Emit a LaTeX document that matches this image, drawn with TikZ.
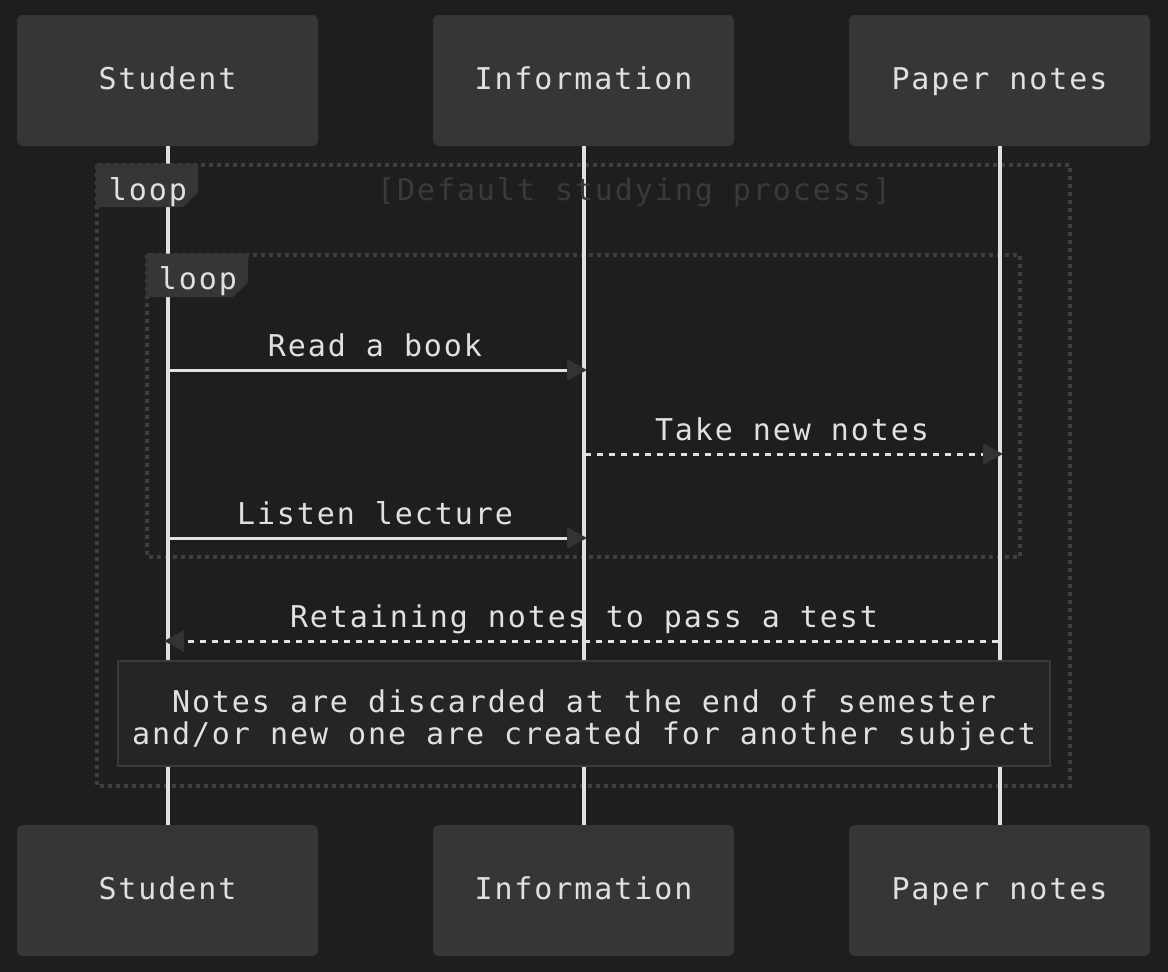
\documentclass[tikz,border=0pt]{standalone}
\usepackage{fontspec}
\newfontfamily\monof[LetterSpace=6.4]{DejaVu Sans Mono}
\usetikzlibrary{arrows.meta}
\definecolor{bgc}{HTML}{1E1E1E}
\definecolor{boxc}{HTML}{363636}
\definecolor{txtc}{HTML}{E0E0E0}
\definecolor{framec}{HTML}{3E3E3E}
\definecolor{tabc}{HTML}{363636}
\definecolor{titlec}{HTML}{3A3A3A}
\definecolor{arrc}{HTML}{333333}
\definecolor{notec}{HTML}{252525}
\definecolor{notebd}{HTML}{3A3A3A}
\tikzset{
  actor/.style={draw=none, fill=boxc, rounded corners=6pt, minimum width=301pt, minimum height=131pt,
    text=txtc, text height=22pt, text depth=5pt, inner sep=0pt},
  life/.style={draw=txtc, line width=4pt},
  framebox/.style={draw=framec, line width=3.5pt, dash pattern=on 4pt off 4pt},
  tabbox/.style={fill=tabc, draw=none},
  lbl/.style={text=txtc, inner sep=0pt, anchor=base},
  msgsolid/.style={draw=txtc, line width=3pt, -{Triangle[length=20pt,width=21pt,fill=arrc,color=arrc]}},
  msgdash/.style={msgsolid, dash pattern=on 6pt off 6pt},
  notebox/.style={fill=notec, draw=notebd, line width=2pt, minimum width=932pt, minimum height=105pt, inner sep=0pt},
}
\begin{document}
\begin{tikzpicture}[x=1pt,y=-1pt, font=\monof\fontsize{30}{33}\selectfont]
\useasboundingbox[fill=bgc] (0,0) rectangle (1168,972);
% actors
\node[actor] (s1) at (167.5,80.5) {Student};
\node[actor] (i1) at (583.5,80.5) {Information};
\node[actor] (p1) at (999.5,80.5) {Paper notes};
\node[actor] (s2) at (167.5,890.5) {Student};
\node[actor] (i2) at (583.5,890.5) {Information};
\node[actor] (p2) at (999.5,890.5) {Paper notes};
% frames
\draw[framebox] (97,165) rectangle (1070,786);
\draw[framebox] (147,255) rectangle (1020,557);
% lifelines
\draw[life] (s1.south) -- (s2.north);
\draw[life] (i1.south) -- (i2.north);
\draw[life] (p1.south) -- (p2.north);
% tabs
\fill[tabbox] (96,163.5) -- (198,163.5) -- (198,192) -- (183,207) -- (96,207) -- cycle;
\node[lbl] (loop1) at (148,200) {loop};
\node[lbl, text=titlec] (title1) at (634,200) {[Default studying process]};
\fill[tabbox] (146,253.5) -- (248,253.5) -- (248,282) -- (233,297) -- (146,297) -- cycle;
\node[lbl] (loop2) at (198,289) {loop};
% message coordinates
\coordinate (a1) at (169,370);
\coordinate (b1) at (587,370);
\coordinate (a2) at (585,454);
\coordinate (b2) at (1003,454);
\coordinate (a3) at (169,538);
\coordinate (b3) at (587,538);
\coordinate (a4) at (998,641);
\coordinate (b4) at (164,641);
\draw[msgsolid] (a1) -- (b1);
\node[lbl] (t1) at (375,356) {Read a book};
\draw[msgdash] (a2) -- (b2);
\node[lbl] (t2) at (792,440) {Take new notes};
\draw[msgsolid] (a3) -- (b3);
\node[lbl] (t3) at (375,524) {Listen lecture};
\draw[msgdash] (a4) -- (b4);
\node[lbl] (t4) at (584,627) {Retaining notes to pass a test};
% note
\node[notebox] (note) at (584,713.5) {};
\node[lbl] (n1) at (584,712) {Notes are discarded at the end of semester};
\node[lbl] (n2) at (584,744) {and/or new one are created for another subject};
\end{tikzpicture}
\end{document}
